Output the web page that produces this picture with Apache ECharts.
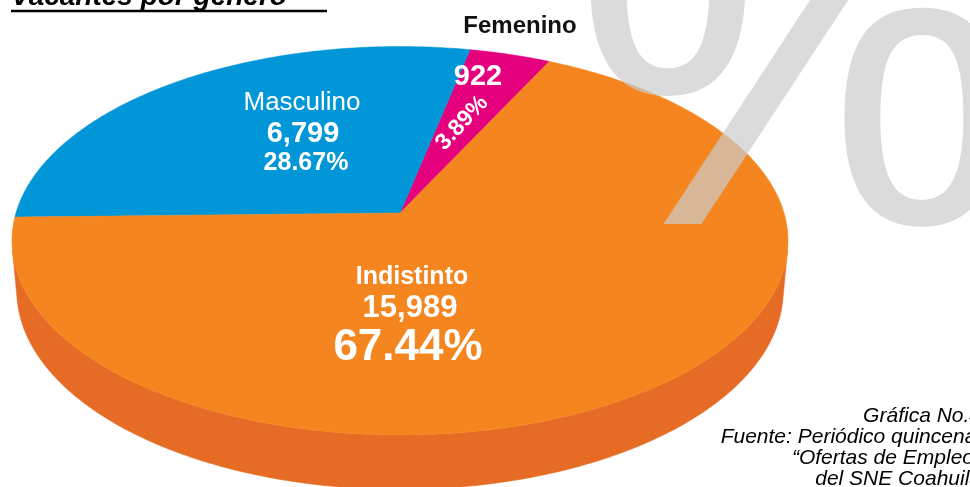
<!DOCTYPE html>
<html>
<head>
<meta charset="utf-8">
<script src="https://cdn.jsdelivr.net/npm/echarts@6/dist/echarts.min.js"></script>
<style>
  html, body { margin: 0; padding: 0; background: #fff; }
  #chart { width: 970px; height: 487px; }
</style>
</head>
<body>
<div id="chart"></div>
<script>
// datos de la gráfica (orden: sentido antihorario desde el corte Femenino/Indistinto)
const categories = ['Femenino', 'Masculino', 'Indistinto'];
const vacantes = [922, 6799, 15989];
const porcentajes = [3.89, 28.67, 67.44];

const topColors = ['#E5007D', '#0096D8', '#F5861F'];
const sideColors = ['#B00062', '#0078AE', '#E66C25'];

// proyección en perspectiva del disco
const VX = 400, VY = 213;
const FOCAL = 2335, DIST = 6.08;
const TILT = 29.7 * Math.PI / 180;
const DEPTH = 0.15;
const START = 64 * Math.PI / 180;
const FONT = '"Liberation Sans", Arial, sans-serif';

const project = (theta, yw, r) => {
  const X = r * Math.cos(theta), Z = r * Math.sin(theta);
  const c = Math.cos(TILT), s = Math.sin(TILT);
  const yc = yw * c + Z * s;
  const zc = DIST + Z * c - yw * s;
  return [VX + FOCAL * X / zc, VY - FOCAL * yc / zc];
};

// parte visible de la pared lateral
const visLimit = Math.asin(1 / (DIST * Math.cos(TILT)));
const VIS_MIN = Math.PI + visLimit, VIS_MAX = 2 * Math.PI - visLimit;

const total = vacantes.reduce((a, b) => a + b, 0);
let acc = START;
const angles = vacantes.map(v => {
  const a0 = acc;
  acc += v / total * Math.PI * 2;
  return [a0, acc];
});

const fmt = v => v.toLocaleString('en-US');

// etiquetas de cada rebanada
const labelLayout = [
  [
    { t: i => fmt(vacantes[i]), x: 478, y: 77, font: 'bold 29px ' + FONT, fill: '#fff' },
    { t: i => porcentajes[i].toFixed(2) + '%', x: 462, y: 123, rot: 47, font: 'bold 23px ' + FONT, fill: '#fff' },
    { t: i => categories[i], x: 520, y: 26, font: 'bold 24px ' + FONT, fill: '#111' }
  ],
  [
    { t: i => categories[i], x: 302, y: 103, font: '26px ' + FONT, fill: '#fff' },
    { t: i => fmt(vacantes[i]), x: 303, y: 134, font: 'bold 29px ' + FONT, fill: '#fff' },
    { t: i => porcentajes[i].toFixed(2) + '%', x: 306, y: 163, font: 'bold 25px ' + FONT, fill: '#fff' }
  ],
  [
    { t: i => categories[i], x: 412, y: 277, font: 'bold 25px ' + FONT, fill: '#fff' },
    { t: i => fmt(vacantes[i]), x: 410, y: 308, font: 'bold 31px ' + FONT, fill: '#fff' },
    { t: i => porcentajes[i].toFixed(2) + '%', x: 408, y: 348, font: 'bold 44px ' + FONT, fill: '#fff' }
  ]
];

const arcPoints = (a0, a1, yw) => {
  const pts = [];
  const n = Math.max(2, Math.ceil((a1 - a0) / 0.01));
  for (let k = 0; k <= n; k++) pts.push(project(a0 + (a1 - a0) * k / n, yw, 1));
  return pts;
};

const renderItem = (params, api) => {
  const i = params.dataIndex;
  const [a0, a1] = angles[i];
  const children = [];

  // pared lateral (solo la parte que mira al frente)
  [0, Math.PI * 2].forEach(off => {
    const s0 = Math.max(a0, VIS_MIN + off), s1 = Math.min(a1, VIS_MAX + off);
    if (s1 > s0) {
      const pts = arcPoints(s0, s1, 0).concat(arcPoints(s0, s1, -DEPTH).reverse());
      children.push({
        type: 'polygon', z2: 1,
        shape: { points: pts },
        style: { fill: sideColors[i], stroke: sideColors[i], lineWidth: 0.5 }
      });
    }
  });

  // cara superior
  const topPts = [project(0, 0, 0)].concat(arcPoints(a0, a1, 0));
  children.push({
    type: 'polygon', z2: 5,
    shape: { points: topPts },
    style: { fill: topColors[i], stroke: topColors[i], lineWidth: 0.5 }
  });

  labelLayout[i].forEach(l => {
    children.push({
      type: 'text', z2: 10,
      x: l.x, y: l.y,
      rotation: (l.rot || 0) * Math.PI / 180,
      style: {
        text: l.t(i), font: l.font, fill: l.fill,
        align: 'center', verticalAlign: 'middle'
      }
    });
  });

  return { type: 'group', children: children };
};

const chart = echarts.init(document.getElementById('chart'));

const footer = ['Gráfica No.4', 'Fuente: Periódico quincenal', '“Ofertas de Empleo”', 'del SNE Coahuila'];

chart.setOption({
  animation: false,
  backgroundColor: '#fff',
  series: [{
    type: 'custom',
    coordinateSystem: 'none',
    renderItem: renderItem,
    data: vacantes
  }],
  graphic: [
    {
      type: 'text', z: 50,
      x: 795, y: 86,
      style: {
        text: '%', font: '500px ' + FONT,
        fill: 'rgba(204,204,204,0.7)',
        align: 'center', verticalAlign: 'middle'
      }
    },
    {
      type: 'text', z: 60,
      x: 11, y: -3,
      style: {
        text: 'Vacantes por género', font: 'italic bold 28px ' + FONT,
        fill: '#000', align: 'left', verticalAlign: 'middle'
      }
    },
    {
      type: 'line', z: 60,
      shape: { x1: 11, y1: 11, x2: 327, y2: 11 },
      style: { stroke: '#000', lineWidth: 2.5 }
    }
  ].concat(footer.map((t, k) => ({
    type: 'text', z: 60,
    x: 981, y: 416 + k * 21,
    style: {
      text: t, font: 'italic 21px ' + FONT,
      fill: '#000', align: 'right', verticalAlign: 'middle'
    }
  })))
});
</script>
</body>
</html>
